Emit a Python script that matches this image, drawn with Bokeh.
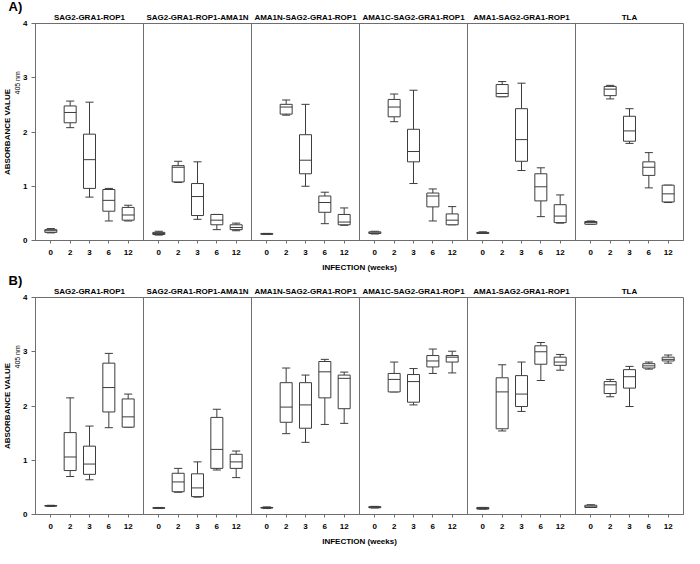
from bokeh.plotting import figure
from bokeh.models import FactorRange, Range1d, CategoricalAxis, Title, ColumnDataSource, FixedTicker
from bokeh.layouts import column
from bokeh.embed import file_html
from bokeh.resources import INLINE

facets = ["SAG2-GRA1-ROP1", "SAG2-GRA1-ROP1-AMA1N", "AMA1N-SAG2-GRA1-ROP1",
          "AMA1C-SAG2-GRA1-ROP1", "AMA1-SAG2-GRA1-ROP1", "TLA"]
weeks = ["0", "2", "3", "6", "12"]
y_ticks = [0, 1, 2, 3, 4]

# Panel A  (per facet, per week)
a_min = [[0.14, 2.08, 0.80, 0.36, 0.36], [0.10, 1.07, 0.39, 0.20, 0.18], [0.11, 2.31, 1.00, 0.31, 0.28],
         [0.12, 2.19, 1.05, 0.36, 0.29], [0.13, 2.65, 1.29, 0.44, 0.32], [0.30, 2.61, 1.79, 0.97, 0.70]]
a_q1 = [[0.15, 2.17, 0.96, 0.54, 0.375], [0.11, 1.08, 0.46, 0.29, 0.20], [0.115, 2.33, 1.23, 0.52, 0.29],
        [0.13, 2.28, 1.45, 0.62, 0.29], [0.13, 2.65, 1.46, 0.73, 0.33], [0.30, 2.67, 1.83, 1.20, 0.71]]
a_med = [[0.18, 2.36, 1.49, 0.74, 0.47], [0.13, 1.35, 0.81, 0.375, 0.24], [0.12, 2.46, 1.48, 0.70, 0.34],
         [0.14, 2.46, 1.64, 0.82, 0.375], [0.14, 2.71, 1.86, 0.99, 0.45], [0.33, 2.79, 2.02, 1.35, 0.86]]
a_q3 = [[0.20, 2.48, 1.96, 0.94, 0.61], [0.15, 1.38, 1.05, 0.48, 0.29], [0.13, 2.51, 1.95, 0.82, 0.48],
        [0.16, 2.60, 2.05, 0.875, 0.49], [0.15, 2.875, 2.43, 1.23, 0.66], [0.35, 2.84, 2.29, 1.45, 1.02]]
a_max = [[0.22, 2.57, 2.55, 0.96, 0.65], [0.17, 1.46, 1.45, 0.48, 0.32], [0.13, 2.59, 2.51, 0.89, 0.60],
         [0.17, 2.70, 2.77, 0.95, 0.625], [0.16, 2.93, 2.90, 1.34, 0.84], [0.36, 2.86, 2.43, 1.62, 1.02]]

# Panel B
b_min = [[0.15, 0.70, 0.64, 1.60, 1.61], [0.11, 0.41, 0.32, 0.82, 0.68], [0.11, 1.49, 1.33, 1.66, 1.68],
         [0.12, 2.26, 2.02, 2.60, 2.61], [0.10, 1.54, 1.90, 2.47, 2.66], [0.13, 2.17, 1.99, 2.68, 2.79]]
b_q1 = [[0.155, 0.81, 0.74, 1.89, 1.61], [0.115, 0.42, 0.33, 0.85, 0.85], [0.12, 1.70, 1.59, 2.15, 1.95],
        [0.125, 2.26, 2.07, 2.72, 2.81], [0.10, 1.58, 1.99, 2.77, 2.75], [0.13, 2.23, 2.33, 2.70, 2.83]]
b_med = [[0.16, 1.06, 0.93, 2.34, 1.80], [0.12, 0.60, 0.49, 1.20, 0.97], [0.125, 1.98, 2.02, 2.63, 2.51],
         [0.135, 2.49, 2.45, 2.83, 2.90], [0.11, 2.26, 2.22, 3.00, 2.81], [0.14, 2.39, 2.54, 2.74, 2.86]]
b_q3 = [[0.165, 1.51, 1.26, 2.79, 2.13], [0.125, 0.76, 0.75, 1.79, 1.11], [0.13, 2.43, 2.43, 2.82, 2.57],
        [0.145, 2.60, 2.58, 2.93, 2.93], [0.13, 2.52, 2.56, 3.11, 2.90], [0.17, 2.45, 2.67, 2.78, 2.90]]
b_max = [[0.17, 2.15, 1.63, 2.97, 2.22], [0.13, 0.85, 0.97, 1.94, 1.17], [0.14, 2.70, 2.57, 2.86, 2.625],
         [0.15, 2.81, 2.69, 3.05, 3.01], [0.13, 2.76, 2.81, 3.17, 2.95], [0.18, 2.49, 2.73, 2.81, 2.94]]

FONT = "Liberation Sans"
FS = "8px"
BOX_COLOR = "#3c3c3c"
FRAME_COLOR = "#6e6e6e"
GROUP_PAD = 0.585
BOX_W = 0.62
CAP_HALF = 0.21
MED_HALF = BOX_W / 2
SEP_OFF = 0.5 + GROUP_PAD / 2


def flat(m):
    return [v for row in m for v in row]


def make_panel(tag, mins, q1s, meds, q3s, maxs):
    factors = [(f, w) for f in facets for w in weeks]
    xr = FactorRange(*factors, group_padding=GROUP_PAD, factor_padding=0,
                     range_padding=SEP_OFF - 0.5, range_padding_units="absolute")
    p = figure(x_range=xr, y_range=Range1d(0, 4), width=684, height=274,
               output_backend="svg", toolbar_location=None, min_border=0,
               min_border_right=1)
    p.xgrid.grid_line_color = None
    p.ygrid.grid_line_color = None
    p.outline_line_color = FRAME_COLOR
    p.outline_line_width = 1
    p.background_fill_color = "white"
    p.border_fill_color = "white"

    src = ColumnDataSource(dict(
        x=factors,
        xl_box=[(f, w, -MED_HALF) for f, w in factors],
        xr_box=[(f, w, MED_HALF) for f, w in factors],
        xl_cap=[(f, w, -CAP_HALF) for f, w in factors],
        xr_cap=[(f, w, CAP_HALF) for f, w in factors],
        lo=flat(mins), q1=flat(q1s), med=flat(meds), q3=flat(q3s), hi=flat(maxs),
    ))
    lw = 1
    p.segment(x0="x", y0="q3", x1="x", y1="hi", source=src, line_color=BOX_COLOR, line_width=lw)
    p.segment(x0="x", y0="q1", x1="x", y1="lo", source=src, line_color=BOX_COLOR, line_width=lw)
    p.segment(x0="xl_cap", y0="hi", x1="xr_cap", y1="hi", source=src, line_color=BOX_COLOR, line_width=lw)
    p.segment(x0="xl_cap", y0="lo", x1="xr_cap", y1="lo", source=src, line_color=BOX_COLOR, line_width=lw)
    p.vbar(x="x", width=BOX_W, bottom="q1", top="q3", source=src, fill_color="white",
           line_color=BOX_COLOR, line_width=lw)
    p.segment(x0="xl_box", y0="med", x1="xr_box", y1="med", source=src, line_color=BOX_COLOR, line_width=lw)

    sep = ColumnDataSource(dict(x=[(f, "12", SEP_OFF) for f in facets[:-1]],
                                y0=[0] * (len(facets) - 1), y1=[4] * (len(facets) - 1)))
    p.segment(x0="x", y0="y0", x1="x", y1="y1", source=sep, line_color=FRAME_COLOR, line_width=1)

    ax = p.xaxis[0]
    ax.major_label_text_font = FONT
    ax.major_label_text_font_style = "bold"
    ax.major_label_text_font_size = FS
    ax.major_label_text_color = "black"
    ax.major_label_standoff = 6
    ax.group_text_font_size = "1px"
    ax.group_text_color = None
    ax.separator_line_color = None
    ax.major_tick_in = 0
    ax.major_tick_out = 3
    ax.major_tick_line_color = FRAME_COLOR
    ax.axis_line_color = FRAME_COLOR
    ax.axis_label = "INFECTION (weeks)"
    ax.axis_label_text_font = FONT
    ax.axis_label_text_font_style = "bold"
    ax.axis_label_text_font_size = FS
    ax.axis_label_text_color = "black"
    ax.axis_label_standoff = 5

    top = CategoricalAxis()
    top.major_label_text_font_size = "1px"
    top.major_label_text_color = None
    top.major_label_standoff = 0
    top.major_tick_in = 0
    top.major_tick_out = 2
    top.major_tick_line_color = None
    top.axis_line_color = None
    top.separator_line_color = None
    top.group_text_font = FONT
    top.group_text_font_style = "bold"
    top.group_text_font_size = FS
    top.group_text_color = "black"
    top.group_label_orientation = "parallel"
    p.add_layout(top, "above")
    p.add_layout(Title(text=tag, align="left", offset=-27, standoff=-8,
                       text_font=FONT, text_font_style="bold", text_font_size="13px",
                       text_color="black"), "above")

    ya = p.yaxis[0]
    ya.ticker = FixedTicker(ticks=y_ticks, minor_ticks=[])
    ya.major_label_text_font = FONT
    ya.major_label_text_font_style = "bold"
    ya.major_label_text_font_size = FS
    ya.major_label_text_color = "black"
    ya.major_tick_in = 0
    ya.major_tick_out = 4
    ya.major_tick_line_color = FRAME_COLOR
    ya.axis_line_color = FRAME_COLOR
    ya.major_label_standoff = 4

    p.add_layout(Title(text="405 nm", align="left", offset=146, standoff=0,
                       text_font=FONT, text_font_style="normal", text_font_size="7px",
                       text_color="black"), "left")
    p.add_layout(Title(text="ABSORBANCE VALUE", align="center", offset=-6, standoff=0,
                       text_font=FONT, text_font_style="bold", text_font_size=FS,
                       text_color="black"), "left")
    return p


pa = make_panel("A)", a_min, a_q1, a_med, a_q3, a_max)
pb = make_panel("B)", b_min, b_q1, b_med, b_q3, b_max)
layout = column(pa, pb, spacing=0)
open("out.html", "w").write(file_html(layout, INLINE))
